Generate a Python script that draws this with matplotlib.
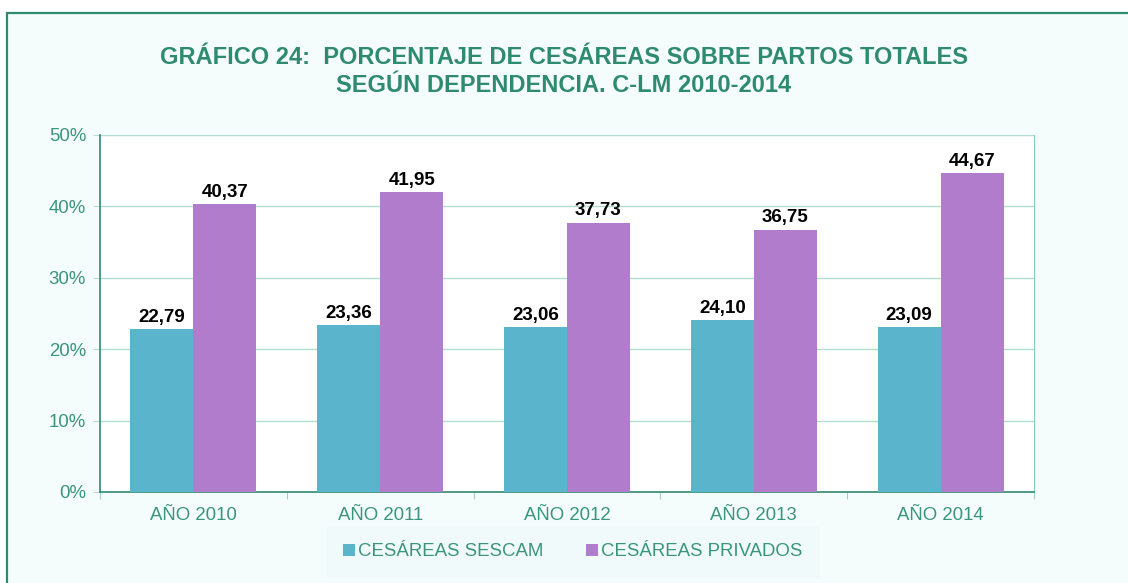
import matplotlib.pyplot as plt
import numpy as np
from matplotlib.patches import Rectangle
from matplotlib.ticker import FuncFormatter

plt.rcParams['font.family'] = ['Liberation Sans', 'DejaVu Sans']

# datos
anios = ['AÑO 2010', 'AÑO 2011', 'AÑO 2012', 'AÑO 2013', 'AÑO 2014']
sescam = [22.79, 23.36, 23.06, 24.10, 23.09]
privados = [40.37, 41.95, 37.73, 36.75, 44.67]
series_names = ['CESÁREAS SESCAM', 'CESÁREAS PRIVADOS']

verde = '#2e8b6e'
verde_txt = '#3a957e'
c_sescam = '#5ab4cb'
c_priv = '#b07ccb'

W, H = 1128, 583
fig = plt.figure(figsize=(W / 100, H / 100), dpi=100)
fig.patch.set_facecolor('white')

# marco exterior
marco = Rectangle((7 / W, -0.05), 1.1, (583 - 13) / H + 0.05,
                  transform=fig.transFigure, facecolor='#f5fcfc',
                  edgecolor=verde, linewidth=1.6, zorder=-10)
fig.patches.append(marco)

ax = fig.add_axes([100 / W, (583 - 492) / H, 934 / W, (492 - 135) / H])
ax.set_facecolor('white')

x = np.arange(len(anios))
w = 0.337
b1 = ax.bar(x - w / 2, sescam, w, color=c_sescam, label=series_names[0], zorder=3)
b2 = ax.bar(x + w / 2, privados, w, color=c_priv, label=series_names[1], zorder=3)

for bars, vals in ((b1, sescam), (b2, privados)):
    for r, v in zip(bars, vals):
        ax.text(r.get_x() + r.get_width() / 2, v + 0.45, f'{v:.2f}'.replace('.', ','),
                ha='center', va='bottom', fontsize=13.5, fontweight='bold', color='black')

ax.set_xlim(-0.5, len(anios) - 0.5)
ax.set_ylim(0, 50)
ax.set_yticks(np.arange(0, 51, 10))
ax.yaxis.set_major_formatter(FuncFormatter(lambda v, p: f'{int(v)}%'))
ax.grid(axis='y', color='#b3dcd2', linewidth=1, zorder=0)
ax.set_xticks(x)
ax.set_xticklabels(anios)
ax.set_xticks(np.arange(-0.5, len(anios), 1), minor=True)
ax.tick_params(axis='x', which='major', length=0, pad=11, labelsize=13.4, labelcolor=verde_txt)
ax.tick_params(axis='x', which='minor', length=5, color='#8ccabb', direction='out')
ax.tick_params(axis='y', length=5, color='#b3dcd2', labelsize=13.4, labelcolor=verde_txt, pad=5)

for s in ['left', 'bottom']:
    ax.spines[s].set_color(verde)
    ax.spines[s].set_linewidth(1.2)
ax.spines['right'].set_color('#8ccabb')
ax.spines['top'].set_visible(False)

fig.text(564 / W, 1 - 57 / H, 'GRÁFICO 24:  PORCENTAJE DE CESÁREAS SOBRE PARTOS TOTALES',
         ha='center', va='center', fontsize=17, fontweight='bold', color=verde)
fig.text(564 / W, 1 - 85 / H, 'SEGÚN DEPENDENCIA. C-LM 2010-2014',
         ha='center', va='center', fontsize=17, fontweight='bold', color=verde)

leg = fig.legend(handles=[b1, b2], loc='center', bbox_to_anchor=(573 / W, 1 - 552 / H),
                 ncol=2, frameon=True, fontsize=13.4, handlelength=0.6, handleheight=0.6,
                 handletextpad=0.2, columnspacing=2.3, borderpad=0.6)
leg.get_frame().set_facecolor('#f0fafa')
leg.get_frame().set_edgecolor('#f0fafa')
leg.get_frame().set_boxstyle('square')
for t in leg.get_texts():
    t.set_color(verde_txt)

fig.savefig('out.png', dpi=100)
